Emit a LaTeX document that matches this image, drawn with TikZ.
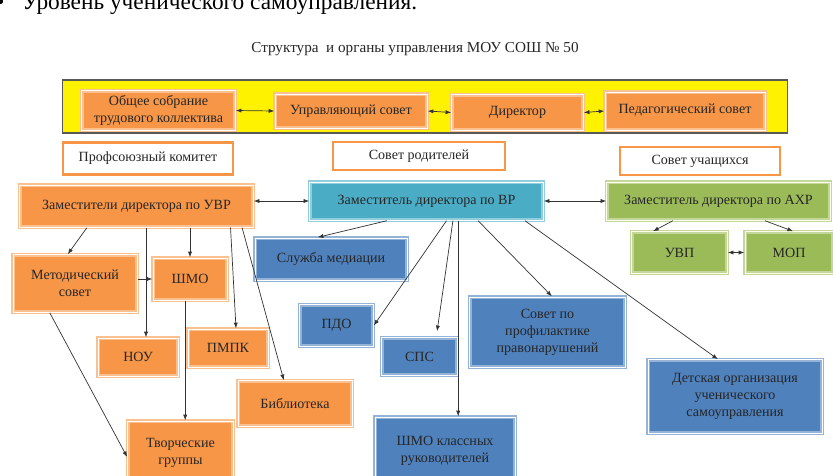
\documentclass[tikz,border=0pt]{standalone}
\usepackage{fontspec}
\setmainfont{Liberation Serif}
\usetikzlibrary{arrows.meta}
\definecolor{orfill}{HTML}{F79646}
\definecolor{orline}{HTML}{FAC08F}
\definecolor{blfill}{HTML}{4F81BD}
\definecolor{blline}{HTML}{95B3D7}
\definecolor{tlfill}{HTML}{4BACC6}
\definecolor{tlline}{HTML}{92CDDC}
\definecolor{grfill}{HTML}{9BBB59}
\definecolor{grline}{HTML}{C3D69B}

\begin{document}
\begin{tikzpicture}[x=0.025cm, y=-0.025cm, >={Latex[length=4pt,width=3pt]},
        every node/.style={font=\fontsize{10}{12}\selectfont, text=black!85, align=center, inner sep=1pt},
        every edge/.style={draw, black!80, line width=0.5pt},
        box/.style={draw, line width=1pt, double distance=0.6pt},
        obox/.style={box, draw=orline, double=white, fill=orfill},
        bbox/.style={box, draw=blline, double=white, fill=blfill},
        tbox/.style={box, draw=tlline, double=white, fill=tlfill},
        gbox/.style={box, draw=grline, double=white!90!yellow, fill=grfill},
        wbox/.style={draw=orfill, line width=2pt, fill=white},
        yband/.style={draw=black!65, line width=0.8pt, fill=yellow, minimum width=18.1cm, minimum height=1.325cm}]
        \useasboundingbox (0,0) rectangle (833,475);

        \node[anchor=base west, font=\fontsize{16.6}{19}\selectfont, text=black, inner sep=0pt] (lvl) at (-4,9.5) {•\hspace{12.5pt}Уровень ученического самоуправления.};
        \node[font=\fontsize{10.8}{13}\selectfont] (title) at (415,49) {Структура\ \ и органы управления МОУ СОШ № 50};

        \node[yband] (band) at (425,106.5) {};
        \node[obox, minimum width=3.83cm, minimum height=0.98cm] (sobr) at (158.5,110.5) {Общее собрание\\трудового коллектива};
        \node[obox, minimum width=3.8cm, minimum height=0.85cm] (upr) at (351,111) {Управляющий совет};
        \node[obox, minimum width=3.28cm, minimum height=0.88cm] (dir) at (517.5,112.5) {Директор};
        \node[obox, minimum width=4cm, minimum height=0.95cm] (ped) at (685,111) {\raisebox{4pt}{Педагогический совет}};

        \node[wbox, minimum width=4.25cm, minimum height=0.78cm] (prof) at (148,158.5) {Профсоюзный комитет};
        \node[wbox, minimum width=4.3cm, minimum height=0.7cm] (rod) at (419,156) {Совет родителей};
        \node[wbox, minimum width=4cm, minimum height=0.7cm] (uch) at (700,161) {Совет учащихся};

        \node[obox, minimum width=5.83cm, minimum height=1.05cm] (uvr) at (136.5,206) {Заместители директора по УВР};
        \node[tbox, minimum width=5.83cm, minimum height=0.95cm] (vr) at (426.5,201) {Заместитель директора по ВР};
        \node[gbox, minimum width=5.58cm, minimum height=0.95cm] (ahr) at (718.5,201) {Заместитель директора по АХР};

        \node[obox, minimum width=3.1cm, minimum height=1.43cm] (met) at (75,283.5) {Методический\\совет};
        \node[obox, minimum width=1.85cm, minimum height=1.05cm] (shmo) at (190,279) {ШМО};
        \node[obox, minimum width=2cm, minimum height=0.95cm] (nou) at (138,357) {НОУ};
        \node[obox, minimum width=2cm, minimum height=0.95cm] (pmpk) at (228,348) {ПМПК};
        \node[obox, minimum width=2.85cm, minimum height=1.13cm] (bib) at (295,403.5) {Библиотека};
        \node[obox, minimum width=2.63cm, minimum height=1.6cm] (tvor) at (180.5,453) {Творческие\\группы};

        \node[bbox, minimum width=3.8cm, minimum height=1.05cm] (med) at (331,259) {Служба медиации};
        \node[bbox, minimum width=1.83cm, minimum height=1.03cm] (pdo) at (336.5,325.5) {ПДО};
        \node[bbox, minimum width=1.88cm, minimum height=0.93cm] (sps) at (419.5,356.5) {СПС};
        \node[bbox, minimum width=3.5cm, minimum height=1.7cm] (shmokl) at (445,451) {ШМО классных\\руководителей};
        \node[bbox, minimum width=3.88cm, minimum height=1.75cm] (sovpr) at (547.5,332) {Совет по\\профилактике\\правонарушений};
        \node[bbox, minimum width=4.35cm, minimum height=1.83cm] (det) at (735,396.5) {Детская организация\\ученического\\самоуправления};

        \node[gbox, minimum width=2.38cm, minimum height=1.03cm] (uvp) at (679.5,252.5) {УВП};
        \node[gbox, minimum width=2.2cm, minimum height=1.03cm] (mop) at (789,252.5) {МОП};

        \path[<->] (sobr.east) edge (upr.west);
        \path[<->] (upr.east) edge (dir.west);
        \path[<->] (dir.east) edge (ped.west);
        \path[<->] (vr.west -| uvr.east) edge (vr.west);
        \path[<->] (vr.east) edge (ahr.west);
        \path[<->] (uvp.east) edge (mop.west);

        \path[->] ([xshift=-1.24cm]uvr.south) edge ([xshift=-0.18cm]met.north);
        \path[->] (uvr.south -| shmo) edge (shmo.north);
        \path[->] (met.east |- shmo.west) edge (shmo.west);
        \path[->] ([xshift=0.2cm]nou.north |- uvr.south) edge ([xshift=0.2cm]nou.north);
        \path[->] ([xshift=2.35cm]uvr.south) edge ([xshift=0.2cm]pmpk.north);
        \path[->] ([xshift=2.64cm]uvr.south) edge ([xshift=-0.28cm]bib.north);
        \path[->] ([xshift=-0.12cm]shmo.south) edge ([xshift=-0.12cm]shmo.south |- tvor.north);
        \path[->] ([xshift=-0.63cm]met.south) edge ([yshift=-0.1cm]tvor.west);

        \path[->] ([xshift=-0.99cm]vr.south) edge ([xshift=-0.33cm]med.north);
        \path[->] ([xshift=0.5cm]vr.south) edge (pdo.east);
        \path[->] ([xshift=0.66cm]vr.south) edge ([xshift=0.44cm,yshift=0.15cm]sps.north);
        \path[->] ([xshift=0.33cm]shmokl.north |- vr.south) edge ([xshift=0.33cm]shmokl.north);
        \path[->] ([xshift=1.29cm]vr.south) edge ([xshift=0.11cm]sovpr.north);
        \path[->] ([xshift=2.46cm]vr.south) edge ([xshift=-0.43cm]det.north);

        \path[->] ([xshift=-1.14cm]ahr.south) edge ([xshift=-0.66cm]uvp.north);
        \path[->] ([xshift=1.16cm]ahr.south) edge ([xshift=0.1cm]mop.north);
\end{tikzpicture}
\end{document}
